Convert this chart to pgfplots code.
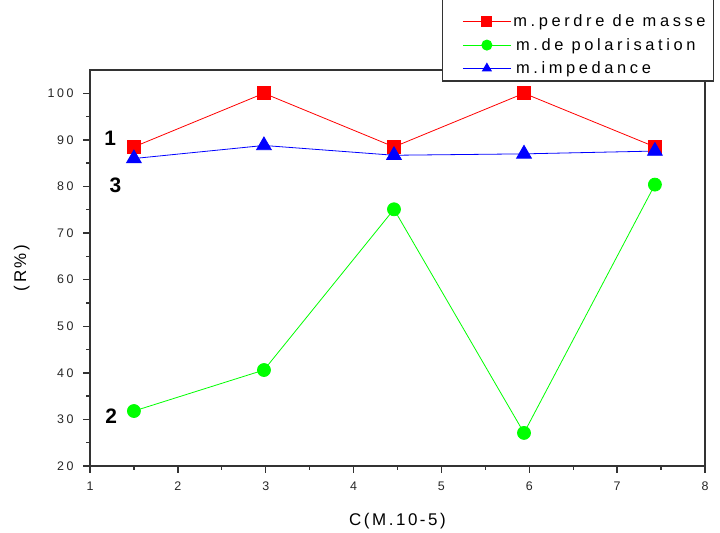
\documentclass[border=0pt]{standalone}
\usepackage{fontspec}
\setmainfont{Liberation Sans}
\newfontfamily\tickfont[LetterSpace=20]{Liberation Sans}
\newfontfamily\labfont[LetterSpace=15]{Liberation Sans}
\newfontfamily\legfont[LetterSpace=22]{Liberation Sans}
\usepackage{pgfplots}
\pgfplotsset{compat=1.18}

% Inhibition efficiency R% for the three methods
\pgfplotstableread{
c     r
1.50  88.5
2.98  100.0
4.46  88.5
5.94  100.0
7.43  88.5
}\masse
\pgfplotstableread{
c     r
1.50  31.8
2.98  40.6
4.46  75.1
5.94  27.1
7.43  80.4
}\polar
\pgfplotstableread{
c     r
1.50  86.0
2.98  88.8
4.46  86.7
5.94  87.0
7.43  87.6
}\imped

\tikzset{tickline/.style={line width=1.4bp, draw=black!80}}

\begin{document}
\begin{tikzpicture}
\useasboundingbox (0bp,0bp) rectangle (720bp,533bp);
\begin{axis}[
  at={(90bp,67bp)}, anchor=south west,
  width=615bp, height=396bp, scale only axis,
  clip=false,
  xmin=1, xmax=8, ymin=20, ymax=105,
  xtick={1,...,8}, ytick={20,30,...,100},
  xtick pos=bottom, ytick pos=left,
  xtick align=outside, ytick align=outside,
  major tick length=6bp,
  axis line style={line width=1.6bp, draw=black!80},
  tick style={draw=none},
  /pgf/number format/assume math mode=true,
  ticklabel style={font=\tickfont\fontsize{12.5}{13}\selectfont, text=black!85},
  xticklabel style={yshift=-6bp},
  yticklabel style={xshift=-7bp},
  xlabel={C(M.10-5)},
  ylabel={(R\%)},
  label style={font=\labfont\fontsize{17}{19}\selectfont},
  xlabel style={at={(axis description cs:0.5,-0.139)}, anchor=center},
  ylabel style={at={(axis description cs:-0.111,0.5)}, anchor=center},
  legend style={
    at={(axis description cs:0.572,0.970)}, anchor=south west,
    draw=black!80, line width=1.4bp, fill=white,
    font=\legfont\fontsize{16.5}{18}\selectfont,
    inner xsep=6bp, inner ysep=4bp,
    row sep=6bp, legend cell align=left,
  },
  legend image code/.code={
    \path (0bp,0bp);
    \draw[#1, line width=1bp, mark repeat=2, mark phase=2, mark size=5bp]
      plot coordinates {(14bp,0bp) (38bp,0bp) (62bp,0bp)};
  },
]
% outward tick marks along the bottom and left spines
\pgfplotsinvokeforeach{1,2,3,4,5,6,7,8}{
  \draw[tickline] (axis cs:#1,20) -- ++(0bp,-6.5bp);}
\pgfplotsinvokeforeach{1.5,2.5,3.5,4.5,5.5,6.5,7.5}{
  \draw[tickline] (axis cs:#1,20) -- ++(0bp,-4bp);}
\pgfplotsinvokeforeach{20,30,40,50,60,70,80,90,100}{
  \draw[tickline] (axis cs:1,#1) -- ++(-6.5bp,0bp);}
\pgfplotsinvokeforeach{25,35,45,55,65,75,85,95}{
  \draw[tickline] (axis cs:1,#1) -- ++(-4bp,0bp);}

% spare top row of the key, kept empty
\addlegendimage{empty legend}
\addlegendentry{}
\addplot[red, line width=0.8bp, mark=square*, mark size=6.5bp,
  mark options={solid, fill=red, draw=red}]
  table[x=c, y=r] {\masse};
\addlegendentry{m.perdre de masse\hspace{40bp}}
\addplot[green, line width=0.8bp, mark=*, mark size=6.5bp,
  mark options={solid, fill=green, draw=green}]
  table[x=c, y=r] {\polar};
\addlegendentry{\,m.de polarisation}
\addplot[blue, line width=0.8bp, mark=triangle*, mark size=8.5bp,
  mark options={solid, fill=blue, draw=blue}]
  table[x=c, y=r] {\imped};
\addlegendentry{\,m.impedance}

\node[font=\bfseries\fontsize{21}{22}\selectfont] at (axis cs:1.23,90.3) {1};
\node[font=\bfseries\fontsize{21}{22}\selectfont] at (axis cs:1.29,80.3) {3};
\node[font=\bfseries\fontsize{21}{22}\selectfont] at (axis cs:1.24,30.7) {2};
\end{axis}
\end{tikzpicture}
\end{document}
